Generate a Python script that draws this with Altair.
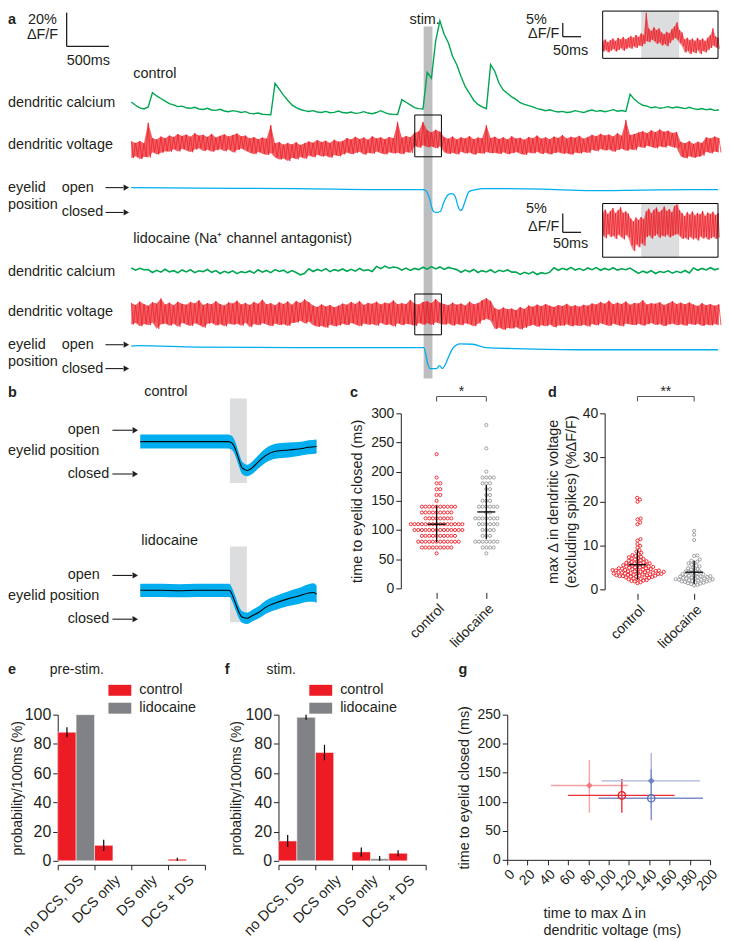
import altair as alt
import pandas as pd

FONT = "Liberation Sans"
INK = "#231F20"
RED = "#ED1C24"
GREEN = "#00A651"
CYAN = "#00AEEF"
BARGRAY = "#808285"
PTGRAY = "#939598"
STIMGRAY = "#BCBEC0"
SHADE = "#DCDDDE"

# ------------------------------------------------------------------ panel a data
DT = 50                      # ms between samples of the long traces
T_END = 6940                 # ms shown
STIM_ON, STIM_OFF = 3458, 3562
ZOOM_T0, ZOOM_T1, ZOOM_DT = 3353, 3668, 7

ca_ctrl = [5.9, 4.0, 2.5, 1.8, 3.0, 11.5, 9.5, 8.0, 6.5, 5.0,
           4.2, 3.2, 3.5, 2.5, 2.2, 2.8, 1.8, 1.5, 2.2, 1.2,
           1.0, 1.6, 0.6, 0.2, 0.8, 0.4, -0.3, 0.2, -0.8, -1.0,
           -0.6, -1.3, -1.5, -1.6, 17.0, 13.5, 10.0, 7.0, 4.2, 2.6,
           1.5, 0.8, 0.3, 0.8, 0.0, -0.3, 0.4, -0.4, -0.2, 0.6,
           -0.3, -0.6, 0.0, -0.8, -0.5, 0.2, -0.6, -1.0, -0.3, 0.8,
           -0.4, -1.2, -1.4, -1.5, 7.3, 5.8, 4.2, 2.6, 2.0, 1.8,
           23.5, 20.0, 42.0, 54.0, 46.0, 41.0, 33.0, 28.0, 21.0, 15.0,
           11.0, 7.0, 4.5, 3.0, 2.0, 28.0, 24.0, 17.0, 13.0, 11.0,
           9.0, 7.5, 5.5, 4.5, 3.8, 3.0, 2.0, 1.5, 0.8, 1.3,
           0.5, 0.0, 0.4, -0.3, 0.0, 0.8, 0.2, -0.3, 0.6, 1.2,
           0.4, 0.9, 0.2, 0.7, 1.4, 0.5, 0.9, 0.4, 10.5, 7.5,
           5.5, 4.0, 3.5, 2.5, 3.0, 2.2, 2.6, 3.2, 2.4, 3.0,
           2.5, 2.0, 2.8, 2.0, 1.5, 2.1, 1.3, 1.8, 1.0, 1.2]

ca_lido = [1.9, 0.6, 1.7, 0.8,
           0.9, -0.8, 0.5, -0.6, 1.1, -0.4, 0.3, -1.0, 0.7, -0.5, 0.8, -0.9, 0.2, -0.3, 1.0, -0.7,
           0.3, -1.4, -0.1, -1.0, 0.2, -1.5, -0.3, -0.9, 0.1, -1.2,
           0.8, -0.6, 0.4, -0.9, 0.9, -0.2, 0.6, -1.0, 0.3,
           -0.8, -2.2, -1.3,
           1.4, -0.2, 1.0, 0.1, 1.5, -0.3, 0.9, 0.2, 1.3, -0.1, 1.1, 0.0, 1.6, 0.3, 0.8, -0.2,
           2.8, 1.5, 3.0, 1.7, 2.4,
           2.0, 0.6, 1.8, 0.4, 1.6, 0.9, 2.3,
           1.2, 2.7, 1.3, 2.5, 1.0, 2.2, 1.5,
           0.9, -0.7, 0.6, -0.4, 1.0, -0.8, 0.3, -0.5, 0.8, -0.9, 0.5, -0.2, 0.7, -0.6,
           -0.5, -1.9, -0.7, -1.6, -0.4, -2.0, -0.9, -1.5, -0.6,
           2.0, 0.5, 1.7, 0.8, 2.2, 0.6, 1.5, 0.4, 1.9, 0.9, 2.1, 0.5, 1.6, 0.7, 2.0, 0.6, 1.4, 0.8, 1.8,
           0.2, -1.3, 0.0, -1.0, 0.3, -1.4, -0.2, -0.8, 0.2, -1.2, -0.1, -0.9, 0.4, -1.1,
           1.9, 0.5, 1.6, 0.7, 2.0, 0.8, 1.5]

v_ctrl_hi = [2.3, 1.6, 2.4, 1.5, 9.8,
             3.6, 3.0, 4.2, 3.5, 4.6,
             4.0, 5.2, 4.4, 5.0, 4.1, 5.6, 4.6, 4.9, 4.0, 5.3,
             3.8, 4.5, 5.1, 4.2, 4.8, 5.5, 4.3, 4.6,
             3.4, 4.0, 3.1, 3.8, 3.3, 8.9,
             1.5, 2.0, 0.9, 1.6, 1.0, 1.9, 0.7, 1.5,
             2.2, 1.7, 2.8, 2.0, 2.5, 1.6, 2.9, 2.1, 2.4,
             3.6, 3.0, 4.1, 3.2, 3.8, 2.9, 4.3, 3.4, 3.9, 3.1, 4.0, 3.5,
             10.2, 3.7, 4.4, 3.9,
             5.8, 6.3, 10.2, 6.8, 5.9, 7.0, 6.2,
             4.0, 3.3, 4.2, 3.0, 3.9, 3.4, 4.4, 3.1, 3.8, 3.5,
             8.9, 3.6,
             4.1, 3.2, 3.9, 3.0, 4.3, 3.4, 3.7, 2.9, 4.0, 3.5, 4.6, 3.3,
             3.9, 3.1, 4.2, 3.6, 4.8, 3.4, 4.1, 3.7, 4.5, 3.3, 4.0,
             4.9, 4.3, 5.3, 4.6, 5.0, 4.2, 5.6, 4.5,
             11.0, 4.8, 5.2,
             5.9, 6.4, 5.6, 6.8, 6.0, 7.1, 6.2, 6.6, 5.7, 6.1,
             2.0, 1.5, 2.4, 1.2, 2.1, 1.6,
             3.9, 3.4, 4.2, 3.6]
v_ctrl_lo = [-4.6, -3.9, -5.0, -4.1, -4.4,
             -2.2, -3.1, -2.4, -1.8, -2.0,
             -1.0, -1.9, -0.8, -1.5, -2.2, -1.1, -0.6, -1.7, -1.2, -2.0,
             -1.4, -0.9, -1.8, -1.1, -2.3, -1.3, -0.7, -1.6,
             -2.4, -3.0, -2.1, -2.8, -3.3, -2.5,
             -4.4, -5.2, -4.8, -5.8, -4.5, -5.1, -4.2, -4.9,
             -3.5, -4.3, -3.2, -4.0, -3.6, -4.5, -3.3, -3.9, -3.1,
             -2.3, -3.0, -2.5, -2.0, -3.2, -2.4, -2.8, -1.9, -2.6, -3.1, -2.2, -2.7,
             -2.4, -3.0, -2.1, -2.5,
             0.3, -0.4, 0.6, -0.2, 0.1, -0.6, 0.2,
             -2.2, -2.9, -2.4, -3.1, -2.0, -2.7, -2.3, -3.2, -2.5, -2.8,
             -2.1, -2.6,
             -2.4, -2.9, -2.2, -3.0, -2.6, -2.1, -2.8, -3.3, -2.3, -2.7, -2.0, -2.9,
             -2.4, -3.1, -2.5, -2.2, -2.8, -2.6, -3.2, -2.3, -2.7, -2.1, -2.5,
             -1.2, -1.8, -0.9, -1.5, -1.1, -2.0, -1.3, -0.8,
             -1.6, -1.0, -1.4,
             0.1, -0.5, 0.4, -0.1, -0.6, 0.2, -0.3, 0.5, -0.2, -0.4,
             -4.0, -4.7, -3.8, -4.5, -4.1, -3.6,
             -2.0, -2.6, -1.9, -2.3]

v_lido_hi = [4.5, 3.6, 5.1, 4.0, 3.3, 4.8, 4.2, 6.3, 3.8, 4.6,
             3.5, 5.0, 4.1, 3.7, 4.9, 4.3, 5.6, 3.6, 4.4, 3.9,
             5.2, 4.0, 3.4, 4.7, 4.2, 5.4, 3.8, 4.5, 3.6, 4.9,
             4.1, 5.8, 3.9, 4.4, 3.5, 4.8, 4.0, 5.1, 3.7,
             5.3, 4.5, 5.9, 4.8,
             3.4, 2.8, 3.9, 3.0, 3.6, 2.7, 3.3,
             4.2, 3.7, 4.9, 4.0, 5.3, 3.6, 4.5, 4.1, 5.0, 3.8,
             4.6, 4.2, 5.5, 3.9, 4.4, 4.0, 5.7, 4.3, 3.8, 4.9,
             5.2, 4.4, 6.1, 4.6,
             4.0, 3.5, 4.6, 3.7, 4.2, 3.4, 5.0, 3.9, 4.4,
             5.6, 6.4, 5.3,
             2.3, 1.7, 2.6, 1.9, 2.2, 1.5, 2.8, 2.0,
             3.4, 2.9, 3.8, 3.1, 4.0, 3.3, 2.8, 3.6, 3.2, 4.1, 3.0, 3.5, 2.9, 3.7, 3.3,
             4.3, 3.8, 4.9, 4.1, 5.4, 3.9, 4.6, 4.0, 5.1, 3.7, 4.5, 4.2,
             5.6, 3.8, 4.4, 4.1, 4.8, 3.6, 4.3, 5.2, 4.0, 4.6, 3.9, 4.7,
             3.8, 3.2, 4.4, 3.5, 4.0, 3.3, 3.9]
v_lido_lo = [-4.3, -3.7, -5.0, -4.1, -4.6, -3.5, -6.1, -4.2, -3.9, -4.8,
             -4.0, -5.3, -3.6, -4.4, -4.9, -3.8, -4.5, -5.6, -4.0, -3.7,
             -4.7, -4.2, -5.1, -3.9, -4.4, -4.0, -4.8, -3.6, -5.4, -4.1,
             -4.6, -3.8, -4.3, -5.0, -3.9, -4.5, -4.2, -4.9, -3.7,
             -3.5, -2.8, -3.9, -3.1,
             -4.6, -5.3, -4.9, -5.7, -4.4, -5.1, -4.7,
             -4.0, -4.6, -3.7, -4.3, -5.0, -3.9, -4.4, -4.1, -4.8, -3.6,
             -4.5, -4.2, -5.2, -3.8, -4.6, -4.0, -4.3, -4.9, -3.7, -4.4,
             -3.8, -4.5, -3.4, -4.0,
             -4.4, -3.9, -4.8, -4.1, -4.6, -3.8, -4.3, -5.0, -4.0,
             -2.6, -2.0, -2.8,
             -6.2, -5.6, -6.5, -5.8, -6.0, -5.4, -6.3, -5.7,
             -4.9, -4.4, -5.3, -4.6, -5.0, -4.3, -5.5, -4.7, -4.8, -4.2, -5.1, -4.6, -4.9, -4.4, -5.2,
             -4.1, -4.7, -3.8, -4.4, -4.9, -4.0, -4.5, -5.1, -3.9, -4.3, -4.6, -4.0,
             -4.8, -4.2, -3.7, -4.5, -4.1, -5.0, -4.3, -3.9, -4.6, -4.2, -4.8, -4.0,
             -4.5, -4.0, -4.9, -4.3, -4.7, -4.1, -4.6]

zoom_ctrl_hi = [1.6, 2.2, 1.2, 1.9, 2.5, 1.6, 2.8, 2.2, 3.1, 2.2,
                2.8, 3.4, 2.8, 3.8, 3.1, 4.4, 3.8, 11.9, 6.2, 5.3,
                6.6, 5.6, 6.2, 4.7, 4.1, 5.0, 4.4, 5.9, 6.9, 8.4,
                5.6, 4.7, 2.2, 2.8, 1.9, 2.5, 1.6, 2.8, 1.9, 2.5,
                1.6, 2.8, 3.8, 6.2, 3.4, 2.8]
zoom_ctrl_lo = [-2.2, -1.6, -2.5, -1.9, -1.2, -2.2, -1.6, -0.9, -1.9, -1.2,
                -0.6, -1.2, -0.3, -0.9, 0.0, -0.3, 0.6, 1.6, 1.2, 2.2,
                1.6, 0.6, 1.2, 0.0, 0.6, -0.3, 0.9, 1.9, 2.8, 2.2,
                0.9, -0.3, -2.5, -1.9, -3.1, -2.2, -2.8, -1.6, -3.1, -1.9,
                -2.5, -1.6, -0.9, 0.0, -0.6, -1.2]
zoom_lido_hi = [4.2, 5.0, 3.8, 4.6, 5.4, 4.0, 4.8, 5.6, 4.1, 4.5, 3.9,
                2.6, 1.8, 2.9, 2.2, 3.0, 2.4,
                4.5, 5.2, 4.0, 4.9, 5.5, 4.3, 4.8, 5.8, 4.6, 5.1, 4.2, 5.9, 6.3, 4.8,
                4.0, 3.2, 4.3, 3.6, 4.5, 3.4, 4.1, 3.7, 4.6, 3.3, 4.2, 3.8, 4.4, 3.5, 4.0]
zoom_lido_lo = [-1.8, -2.6, -1.5, -2.3, -1.9, -2.8, -1.6, -2.2, -2.9, -1.7, -2.4,
                -4.5, -6.0, -4.2, -5.0, -3.9, -4.6,
                -2.3, -1.8, -2.7, -2.0, -1.5, -2.5, -1.9, -2.2, -1.6, -2.4, -2.0, -1.7, -1.4, -2.1,
                -2.8, -2.4, -3.0, -2.2, -2.9, -2.5, -3.2, -2.1, -2.7, -2.3, -3.0, -2.6, -2.2, -2.8, -2.4]

eye_ctrl_t = [0, 780, 1945, 3109, 3458, 3493, 3528, 3551, 3575, 3610, 3656, 3691, 3749, 3796,
              3831, 3866, 3889, 3912, 3947, 3994, 4075, 4157, 4273, 4856, 5438, 6020, 6602, 6940]
eye_ctrl_v = [0.0, 0.02, 0.04, 0.08, 0.08, 0.16, 0.44, 0.76, 0.96, 1.0, 0.96, 0.64, 0.28, 0.24,
              0.36, 0.76, 0.92, 0.88, 0.56, 0.16, 0.08, 0.04, 0.04, 0.06, 0.12, 0.10, 0.08, 0.08]
eye_lido_t = [0, 82, 780, 1945, 3109, 3458, 3482, 3505, 3540, 3610, 3645, 3680, 3714, 3749,
              3808, 3889, 4040, 4192, 4658, 5438, 6940]
eye_lido_v = [0.06, 0.04, 0.10, 0.125, 0.125, 0.125, 0.375, 0.79, 1.0, 1.0, 0.875, 1.0, 0.83, 0.54,
              0.125, -0.04, -0.02, 0.125, 0.17, 0.21, 0.21]

# ------------------------------------------------------------------ panel b data (mean +/- sem)
b_t_ctrl = [-530, -400, -300, -200, -100, -10, 0, 14, 34, 53, 72, 102, 131, 171, 210, 269, 347, 406, 465, 512]
b_mean_ctrl = [0.26, 0.26, 0.26, 0.26, 0.26, 0.26, 0.27, 0.30, 0.45, 0.67, 0.86, 0.92, 0.86, 0.71,
               0.58, 0.48, 0.45, 0.43, 0.39, 0.37]
b_sem_ctrl = [0.16, 0.16, 0.16, 0.16, 0.16, 0.16, 0.16, 0.16, 0.16, 0.15, 0.14, 0.13, 0.14, 0.15,
              0.16, 0.17, 0.17, 0.16, 0.16, 0.16]
b_t_lido = [-530, -400, -300, -200, -100, -10, 0, 14, 34, 53, 72, 102, 131, 171, 210, 269, 347, 406, 465, 494, 512]
b_mean_lido = [0.34, 0.34, 0.35, 0.34, 0.34, 0.34, 0.35, 0.45, 0.65, 0.84, 0.95, 0.98, 0.92, 0.84,
               0.73, 0.63, 0.53, 0.47, 0.40, 0.39, 0.43]
b_sem_lido = [0.15, 0.15, 0.15, 0.15, 0.15, 0.15, 0.15, 0.15, 0.15, 0.14, 0.13, 0.13, 0.13, 0.14,
              0.15, 0.16, 0.17, 0.18, 0.20, 0.21, 0.20]

# ------------------------------------------------------------------ panel c data (ms, count)
c_ctrl_ms = [230, 190, 180, 170, 160, 150, 140, 130, 120, 110, 100, 90, 80, 70, 60]
c_ctrl_n = [1, 1, 2, 2, 2, 1, 10, 9, 8, 15, 14, 10, 12, 9, 1]
c_lido_ms = [280, 240, 200, 190, 180, 170, 160, 150, 140, 130, 120, 110, 100, 90, 80, 70, 60]
c_lido_n = [1, 1, 1, 4, 3, 2, 2, 3, 6, 2, 7, 6, 4, 3, 7, 4, 1]
c_mean = [110, 131]
c_sd_lo = [79, 84]
c_sd_hi = [142, 177]

# ------------------------------------------------------------------ panel d data (%dF/F)
d_ctrl = [20.8, 20.4, 19.9, 16.1, 15.9, 15.2, 14.8, 11.4, 11.1, 10.3, 9.9, 9.5,
          8.9, 8.6, 8.3, 8.0, 7.8, 7.6, 7.4, 7.3, 7.1, 7.0,
          6.9, 6.8, 6.6, 6.5, 6.4, 6.3, 6.2, 6.1, 6.0, 5.9, 5.9, 5.8,
          5.7, 5.6, 5.5, 5.5, 5.4, 5.3, 5.2, 5.2, 5.1, 5.0, 5.0, 4.9,
          4.8, 4.8, 4.7, 4.6, 4.6, 4.5, 4.5, 4.4, 4.4, 4.3, 4.3, 4.2,
          4.2, 4.1, 4.1, 4.0, 4.0, 3.9, 3.9, 3.8, 3.8, 3.7, 3.7, 3.6,
          3.6, 3.5, 3.5, 3.4, 3.4, 3.3, 3.3, 3.2, 3.2, 3.1, 3.1, 3.0,
          3.0, 2.9, 2.9, 2.8, 2.7, 2.7, 2.6, 2.5, 2.4, 2.3, 2.2, 2.1,
          2.0, 1.9, 1.8, 1.6, 1.4]
d_lido = [13.3, 12.4, 11.2, 7.7, 7.6, 6.8, 6.5, 6.3, 6.1, 5.9, 5.6, 5.4, 5.2, 5.0, 4.8, 4.6,
          4.5, 4.3, 4.1, 4.0, 3.9, 3.8, 3.6, 3.5, 3.4, 3.3, 3.2, 3.1, 3.0, 3.0, 2.9, 2.8,
          2.8, 2.7, 2.6, 2.5, 2.5, 2.4, 2.3, 2.3, 2.2, 2.2, 2.1, 2.0, 2.0, 1.9, 1.8, 1.8,
          1.7, 1.6, 1.5, 1.4, 1.3, 1.2, 1.0, 0.9]
d_mean = [5.6, 3.9]
d_sd_lo = [2.2, 1.3]
d_sd_hi = [9.0, 6.5]

# ------------------------------------------------------------------ panels e, f data
cats = ["no DCS, DS", "DCS only", "DS only", "DCS + DS"]
e_ctrl = [88.0, 10.6, 0.0, 1.1]
e_ctrl_err = [3.4, 3.8, 0.0, 1.0]
e_lido = [100.0, 0.0, 0.0, 0.0]
e_lido_err = [0.0, 0.0, 0.0, 0.0]
f_ctrl = [13.6, 74.1, 6.1, 5.2]
f_ctrl_err = [4.1, 5.3, 3.1, 2.1]
f_lido = [98.2, 0.0, 1.4, 0.0]
f_lido_err = [1.7, 0.0, 1.9, 0.0]

# ------------------------------------------------------------------ panel g data
g_name = ["control A", "control B", "lidocaine A", "lidocaine B"]
g_x = [81, 113, 142, 142]
g_xlo = [43, 60, 93, 90]
g_xhi = [119, 165, 190, 193]
g_y = [128, 111, 136, 106]
g_ylo = [81, 81, 88, 68]
g_yhi = [172, 139, 184, 156]
g_cross = ["#F7A3A6", "#EE2E35", "#AAB5DD", "#7D8DCA"]
g_mark = ["#F27C82", "#ED1C24", "#6F81C2", "#5B6EB9"]
g_filled = [True, False, True, False]


# ================================================================== helpers
def lin(va, pa, vb, pb, p0, p1):
    s = (pb - pa) / (vb - va)
    return [va + (p0 - pa) / s, va + (p1 - pa) / s]


def sc(dom):
    return alt.Scale(domain=dom, nice=False, zero=False)


ONE = pd.DataFrame({"k": [0]})


def frame(x1, x2, y1, y2):
    return alt.Chart(ONE).mark_rect(opacity=0).encode(
        x=alt.value(x1), x2=alt.value(x2), y=alt.value(y1), y2=alt.value(y2))


def label(s, x, y, size=14.5, align="left", bold=False, color=INK):
    return alt.Chart(pd.DataFrame({"s": [s]})).mark_text(
        align=align, baseline="middle", font=FONT, fontSize=size,
        fontWeight="bold" if bold else "normal", color=color
    ).encode(x=alt.value(x), y=alt.value(y), text="s:N")


def zigzag(hi, lo, t0, dt):
    t, v = [], []
    for i, (h, l) in enumerate(zip(hi, lo)):
        t += [t0 + i * dt, t0 + i * dt + dt / 2]
        v += [h, l]
    return pd.DataFrame({"t": t, "v": v})


def envelope(hi, lo, t0, dt):
    n = min(len(hi), len(lo))
    return pd.DataFrame({"t": [t0 + i * dt for i in range(n)], "hi": hi[:n], "lo": lo[:n]})


def series(vals, t0, dt):
    return pd.DataFrame({"t": [t0 + i * dt for i in range(len(vals))], "v": vals})


def line(df, xs, ys, color, width=1.0, opacity=1.0, interp="linear"):
    return alt.Chart(df).mark_line(color=color, strokeWidth=width, opacity=opacity,
                                   interpolate=interp).encode(
        x=alt.X("t:Q", scale=xs, axis=None), y=alt.Y("v:Q", scale=ys, axis=None))


def area(df, xs, ys, color, opacity=1.0, interp="linear"):
    return alt.Chart(df).mark_area(color=color, opacity=opacity, interpolate=interp).encode(
        x=alt.X("t:Q", scale=xs, axis=None), y=alt.Y("lo:Q", scale=ys, axis=None), y2="hi:Q")


def span_rect(t0, t1, xs, y0, y1, color=None, outline=False):
    df = pd.DataFrame({"a": [t0], "b": [t1]})
    if outline:
        m = alt.Chart(df).mark_rect(filled=False, color="black", strokeWidth=1)
    else:
        m = alt.Chart(df).mark_rect(color=color)
    return m.encode(x=alt.X("a:Q", scale=xs, axis=None), x2="b:Q",
                    y=alt.value(y0), y2=alt.value(y1))


def scale_bar(t0, dt_, v0, dv, xs, ys):
    d1 = pd.DataFrame({"t": [t0], "v": [v0], "v2": [v0 + dv]})
    d2 = pd.DataFrame({"t": [t0], "t2": [t0 + dt_], "v": [v0]})
    vert = alt.Chart(d1).mark_rule(color=INK, strokeWidth=1.3).encode(
        x=alt.X("t:Q", scale=xs, axis=None), y=alt.Y("v:Q", scale=ys, axis=None), y2="v2:Q")
    hor = alt.Chart(d2).mark_rule(color=INK, strokeWidth=1.3).encode(
        x=alt.X("t:Q", scale=xs, axis=None), x2="t2:Q", y=alt.Y("v:Q", scale=ys, axis=None))
    return [vert, hor]


def arrows(ys, xtext, x1, x2, xhead):
    df = pd.DataFrame({"lab": ["open", "closed"], "v": [0, 1]})
    y = alt.Y("v:Q", scale=ys, axis=None)
    base = alt.Chart(df)
    return [
        base.mark_rule(color=INK, strokeWidth=1.1).encode(x=alt.value(x1), x2=alt.value(x2), y=y),
        base.mark_point(shape="triangle-right", filled=True, color=INK, opacity=1, size=40).encode(
            x=alt.value(xhead), y=y),
        base.mark_text(align="left", baseline="middle", font=FONT, fontSize=14.5, color=INK).encode(
            x=alt.value(xtext), y=y, text="lab:N"),
    ]


def swarm(vals, ppu, diam):
    order = sorted(range(len(vals)), key=lambda i: vals[i])
    placed = []
    offs = [0.0] * len(vals)
    for i in order:
        y = vals[i] * ppu
        near = [(py, px) for py, px in placed if abs(py - y) < diam]
        cands = [0.0]
        for py, px in near:
            dx = max(diam * diam - (py - y) ** 2, 0) ** 0.5
            cands += [px + dx, px - dx]
        cands.sort(key=lambda c: (round(abs(c), 6), -c))
        for c in cands:
            if all((c - px) ** 2 + (y - py) ** 2 >= diam * diam - 1e-6 for py, px in near):
                offs[i] = c
                break
        placed.append((y, offs[i]))
    return offs


# ================================================================== panel a
# plot area: page x 58..722, y 8..384 ; traces start at page x 132
WA, HA = 664, 376
XA = sc(lin(0, 74, T_END, 664, 0, WA))
XZ = sc(lin(ZOOM_T0, 548, ZOOM_T1, 664, 0, WA))
Y_CA_C = sc(lin(0, 102, 10, 85, HA, 0))
Y_V_C = sc(lin(0, 137, 10, 112.4, HA, 0))
Y_EYE_C = sc(lin(0, 178, 1, 203, HA, 0))
Y_CA_L = sc(lin(0, 262, 10, 245, HA, 0))
Y_V_L = sc(lin(0, 305, 10, 280.4, HA, 0))
Y_EYE_L = sc(lin(0, 336, 1, 360, HA, 0))
Y_Z_C = sc(lin(0, 35.1, 10, 7.4, HA, 0))
Y_Z_L = sc(lin(0, 219, 10, 181, HA, 0))

layers_a = [
    frame(-50, WA, 0, HA),
    span_rect(STIM_ON, STIM_OFF, XA, 16, 370, STIMGRAY),
    span_rect(STIM_ON, STIM_OFF, XZ, 0.5, 48, SHADE),
    span_rect(STIM_ON, STIM_OFF, XZ, 194, 248, SHADE),
    line(series(ca_ctrl, 0, DT), XA, Y_CA_C, GREEN, 1.4),
    area(envelope(v_ctrl_hi, v_ctrl_lo, 0, DT), XA, Y_V_C, RED, 0.7),
    line(zigzag(v_ctrl_hi, v_ctrl_lo, 0, DT), XA, Y_V_C, RED, 0.8, 0.9),
    line(pd.DataFrame({"t": eye_ctrl_t, "v": eye_ctrl_v}), XA, Y_EYE_C, CYAN, 1.3, interp="monotone"),
    line(series(ca_lido, 0, DT), XA, Y_CA_L, GREEN, 1.6),
    area(envelope(v_lido_hi, v_lido_lo, 0, DT), XA, Y_V_L, RED, 0.7),
    line(zigzag(v_lido_hi, v_lido_lo, 0, DT), XA, Y_V_L, RED, 0.8, 0.9),
    line(pd.DataFrame({"t": eye_lido_t, "v": eye_lido_v}), XA, Y_EYE_L, CYAN, 1.3, interp="monotone"),
    area(envelope(zoom_ctrl_hi, zoom_ctrl_lo, ZOOM_T0, ZOOM_DT), XZ, Y_Z_C, RED, 0.55),
    line(zigzag(zoom_ctrl_hi, zoom_ctrl_lo, ZOOM_T0, ZOOM_DT), XZ, Y_Z_C, RED, 0.8, 0.9),
    area(envelope(zoom_lido_hi, zoom_lido_lo, ZOOM_T0, ZOOM_DT), XZ, Y_Z_L, RED, 0.55),
    line(zigzag(zoom_lido_hi, zoom_lido_lo, ZOOM_T0, ZOOM_DT), XZ, Y_Z_L, RED, 0.8, 0.9),
    span_rect(ZOOM_T0, ZOOM_T1, XA, 105, 147, outline=True),
    span_rect(ZOOM_T0, ZOOM_T1, XA, 285, 326, outline=True),
    span_rect(ZOOM_T0, ZOOM_T1, XZ, 0.5, 48, outline=True),
    span_rect(ZOOM_T0, ZOOM_T1, XZ, 194, 248, outline=True),
    *scale_bar(-765, 500, 38.8, 20, XA, Y_CA_C),
    *scale_bar(3244, 50, 3.2, 5, XZ, Y_Z_C),
    *scale_bar(3244, 50, -1.05, 5, XZ, Y_Z_L),
    *arrows(Y_EYE_C, 4, 48, 66, 69),
    *arrows(Y_EYE_L, 4, 48, 66, 69),
    label("a", -50, 9, bold=True),
    label("20%", -30, 9), label("\u0394F/F", -31, 25), label("500ms", 9, 51),
    label("stim.", 369, 9, align="center"),
    label("5%", 471, 9), label("\u0394F/F", 473, 24), label("50ms", 498, 41),
    label("control", 76, 64),
    label("dendritic calcium", -50, 93), label("dendritic voltage", -50, 135),
    label("eyelid", -50, 178), label("position", -50, 196),
    label("lidocaine (Na\u207a channel antagonist)", 76, 230),
    label("5%", 471, 200), label("\u0394F/F", 473, 218), label("50ms", 498, 235),
    label("dendritic calcium", -50, 263), label("dendritic voltage", -50, 303),
    label("eyelid", -50, 336), label("position", -50, 353),
]
panel_a = alt.layer(*layers_a).resolve_scale(x="independent", y="independent").properties(
    width=WA, height=HA)

# ================================================================== panel b
# plot area: page x 58..318, y 410..620
WB, HB = 260, 210
XB = sc(lin(-530, 83, 510, 260, 0, WB))
YB_C = sc(lin(0, 17, 1, 61, HB, 0))
YB_L = sc(lin(0, 163, 1, 207, HB, 0))


def mean_band(t, m, e):
    return pd.DataFrame({"t": t, "v": m,
                         "lo": [a - b for a, b in zip(m, e)],
                         "hi": [a + b for a, b in zip(m, e)]})


band_c = mean_band(b_t_ctrl, b_mean_ctrl, b_sem_ctrl)
band_l = mean_band(b_t_lido, b_mean_lido, b_sem_lido)
layers_b = [
    frame(-50, 282, -26, 245),
    span_rect(0, 100, XB, -15, 70, SHADE),
    span_rect(0, 100, XB, 134, 210, SHADE),
    area(band_c, XB, YB_C, CYAN, 1.0, "monotone"),
    line(band_c, XB, YB_C, "black", 1.1, interp="monotone"),
    area(band_l, XB, YB_L, CYAN, 1.0, "monotone"),
    line(band_l, XB, YB_L, "black", 1.1, interp="monotone"),
    *arrows(YB_C, 10, 55, 75, 78),
    *arrows(YB_L, 10, 55, 75, 78),
    label("b", -50, -20, bold=True),
    label("control", 87, -21),
    label("lidocaine", 84, 128),
    label("eyelid position", -50, 38),
    label("eyelid position", -50, 184),
]
panel_b = alt.layer(*layers_b).resolve_scale(y="independent").properties(width=WB, height=HB)


# ================================================================== panels c, d
def cat_axis():
    return alt.Axis(values=[0, 1], labelExpr="datum.value == 0 ? 'control' : 'lidocaine'",
                    labelAngle=315, labelAlign="right", labelBaseline="top", labelFontSize=14,
                    labelPadding=3, title=None, domain=False, tickSize=6, offset=4, grid=False,
                    labelFlush=False, labelOverlap=False, labelBound=False)


def dot_panel(groups, xs, ys, ppu_y, ppu_x, diam, size, yaxis, means, lo, hi, letter, lx, star, frm, W, H):
    xaxis = cat_axis()
    rows = []
    for idx, grp, vals in groups:
        offs = swarm(vals, ppu_y, diam)
        for v, o in zip(vals, offs):
            rows.append({"grp": grp, "val": v, "pos": idx + o / ppu_x})
    pts = alt.Chart(pd.DataFrame(rows)).mark_point(
        filled=False, size=size, strokeWidth=0.9, opacity=1, shape="circle").encode(
        x=alt.X("pos:Q", scale=xs, axis=xaxis),
        y=alt.Y("val:Q", scale=ys, axis=yaxis),
        color=alt.Color("grp:N", scale=alt.Scale(domain=["control", "lidocaine"],
                                                 range=[RED, PTGRAY]), legend=None))
    st = pd.DataFrame({"idx": [0, 1], "mean": means, "lo": lo, "hi": hi})
    vr = alt.Chart(st).mark_rule(color="black", strokeWidth=1.3).encode(
        x=alt.X("idx:Q", scale=xs, axis=xaxis), y=alt.Y("lo:Q", scale=ys, axis=yaxis), y2="hi:Q")
    hr = alt.Chart(st).mark_tick(orient="horizontal", color="black", size=18, thickness=1.3,
                                 opacity=1).encode(
        x=alt.X("idx:Q", scale=xs, axis=xaxis), y=alt.Y("mean:Q", scale=ys, axis=yaxis))
    col = "#58595B"
    d1 = pd.DataFrame({"a": [0], "b": [1]})
    d2 = pd.DataFrame({"p": [0, 1]})
    d3 = pd.DataFrame({"p": [0.5], "s": [star]})
    br = [
        alt.Chart(d1).mark_rule(color=col, strokeWidth=1.1).encode(
            x=alt.X("a:Q", scale=xs, axis=xaxis), x2="b:Q", y=alt.value(-17)),
        alt.Chart(d2).mark_rule(color=col, strokeWidth=1.1).encode(
            x=alt.X("p:Q", scale=xs, axis=xaxis), y=alt.value(-17), y2=alt.value(-12)),
        alt.Chart(d3).mark_text(font=FONT, fontSize=14, color=INK, baseline="middle").encode(
            x=alt.X("p:Q", scale=xs, axis=xaxis), y=alt.value(-21), text="s:N"),
    ]
    return alt.layer(frame(*frm), pts, vr, hr, *br,
                     label(letter, lx, -20, bold=True)).properties(width=W, height=H)


# panel c plot area: page x 403..525, y 410..586
WC, HC = 122, 176
XC = sc(lin(0, 36, 1, 86, 0, WC))
YC = sc([0, 300])
c_ctrl_vals = [m for m, n in zip(c_ctrl_ms, c_ctrl_n) for _ in range(n)]
c_lido_vals = [m for m, n in zip(c_lido_ms, c_lido_n) for _ in range(n)]
yaxis_c = alt.Axis(values=list(range(0, 301, 50)), title="time to eyelid closed (ms)",
                   titleFontSize=14.5, labelFontSize=14, tickSize=5, labelPadding=2,
                   titlePadding=6, grid=False)
panel_c = dot_panel([(0, "control", c_ctrl_vals), (1, "lidocaine", c_lido_vals)],
                    XC, YC, HC / 300, 50, 3.7, 10, yaxis_c, c_mean, c_sd_lo, c_sd_hi,
                    "c", -51, "*", (-63, 142, -26, 245), WC, HC)

# panel d plot area: page x 608..722, y 410..587
WD, HD = 114, 177
XD = sc(lin(0, 33, 1, 90, 0, WD))
YD = sc([0, 40])
yaxis_d = alt.Axis(values=[0, 10, 20, 30, 40],
                   title=["max \u0394 in dendritic voltage", "(excluding spikes) (%\u0394F/F)"],
                   titleFontSize=14.5, labelFontSize=14, tickSize=5, labelPadding=2,
                   titlePadding=4, titleLineHeight=18, grid=False)
panel_d = dot_panel([(0, "control", d_ctrl), (1, "lidocaine", d_lido)],
                    XD, YD, HD / 40, 57, 3.3, 10, yaxis_d, d_mean, d_sd_lo, d_sd_hi,
                    "d", -57, "**", (-63, 114, -26, 245), WD, HD)


# ================================================================== panels e, f
def legend_swatches(x0, y0):
    out = []
    for k, (name, col) in enumerate([("control", RED), ("lidocaine", BARGRAY)]):
        yy = y0 + 18 * k
        out.append(alt.Chart(ONE).mark_rect(color=col).encode(
            x=alt.value(x0), x2=alt.value(x0 + 23), y=alt.value(yy), y2=alt.value(yy + 11)))
        out.append(label(name, x0 + 31, yy + 5.5, size=14.5))
    return out


def bar_panel(ctrl, ctrl_err, lido, lido_err, letter, lx, title, legx, frm, title_pad):
    df = pd.DataFrame({"cat": cats * 2, "cond": ["control"] * 4 + ["lidocaine"] * 4,
                       "val": ctrl + lido, "err": ctrl_err + lido_err})
    df["lo"] = [max(0.0, v - e) for v, e in zip(df["val"], df["err"])]
    df["hi"] = df["val"] + df["err"]
    xscale = alt.Scale(paddingInner=0, paddingOuter=0)
    xaxis = alt.Axis(title=None, labelAngle=315, labelAlign="right", labelBaseline="top",
                     labelFontSize=14.5, labelPadding=3, tickBand="extent", tickSize=5,
                     offset=4, grid=False, labelOverlap=False, labelBound=False)
    XO = alt.XOffset("cond:N", sort=["control", "lidocaine"],
                     scale=alt.Scale(paddingInner=0, paddingOuter=0))
    ys = alt.Scale(domain=[0, 100], nice=False, zero=True)
    yaxis = alt.Axis(values=[0, 20, 40, 60, 80, 100], title="probability/100ms (%)",
                     titleFontSize=14, labelFontSize=16, tickSize=5, labelPadding=2,
                     titlePadding=title_pad, grid=False)
    bars = alt.Chart(df).mark_bar(stroke="white", strokeWidth=0.5).encode(
        x=alt.X("cat:N", sort=cats, scale=xscale, axis=xaxis), xOffset=XO,
        y=alt.Y("val:Q", scale=ys, axis=yaxis),
        color=alt.Color("cond:N", scale=alt.Scale(domain=["control", "lidocaine"],
                                                  range=[RED, BARGRAY]), legend=None))
    errs = alt.Chart(df).transform_filter("datum.err > 0").mark_rule(
        color="black", strokeWidth=1.2).encode(
        x=alt.X("cat:N", sort=cats, scale=xscale, axis=xaxis), xOffset=XO,
        y=alt.Y("lo:Q", scale=ys, axis=yaxis), y2="hi:Q")
    return alt.layer(frame(*frm), bars, errs, *legend_swatches(legx, -30),
                     label(letter, lx, -45, bold=True), label(title, lx + 42, -45, size=14)
                     ).properties(width=148, height=147)


# panel e plot area: page x 58..206, y 713..860 ; panel f: page x 280..428
panel_e = bar_panel(e_ctrl, e_ctrl_err, e_lido, e_lido_err, "e", -50, "pre-stim.", 51,
                    (-50, 167, -58, 225), 0)
panel_f = bar_panel(f_ctrl, f_ctrl_err, f_lido, f_lido_err, "f", -54, "stim.", 31,
                    (-55, 173, -58, 225), 2)

# ================================================================== panel g
# plot area: page x 510..714, y 713..859
WG, HG = 204, 146
XG = sc([0, 200])
YG = sc([0, 250])
gdf = pd.DataFrame({"name": g_name, "x": g_x, "xlo": g_xlo, "xhi": g_xhi,
                    "y": g_y, "ylo": g_ylo, "yhi": g_yhi})
g_xaxis = alt.Axis(values=list(range(0, 201, 20)), labelAngle=315, labelAlign="right",
                   labelBaseline="top", labelFontSize=14, labelPadding=2, tickSize=5,
                   title=["time to max \u0394 in", "dendritic voltage (ms)"], titleFontSize=14.5,
                   titleAlign="left", titleAnchor="start", titleX=36, titleY=47,
                   titleBaseline="top", titleLineHeight=17, grid=False,
                   labelFlush=False, labelOverlap=False, labelBound=False)
g_yaxis = alt.Axis(values=list(range(0, 251, 50)), title="time to eyelid closed (ms)",
                   titleFontSize=14.5, labelFontSize=14, tickSize=5, labelPadding=2,
                   titlePadding=6, grid=False, labelFlush=False, labelOverlap=False)
layers_g = [frame(-57, 212, -58, 225)]
for i in range(len(g_name)):
    row = gdf.iloc[[i]]
    layers_g.append(alt.Chart(row).mark_rule(color=g_cross[i], strokeWidth=1.4).encode(
        x=alt.X("xlo:Q", scale=XG, axis=g_xaxis), x2="xhi:Q",
        y=alt.Y("y:Q", scale=YG, axis=g_yaxis)))
    layers_g.append(alt.Chart(row).mark_rule(color=g_cross[i], strokeWidth=1.4).encode(
        x=alt.X("x:Q", scale=XG, axis=g_xaxis),
        y=alt.Y("ylo:Q", scale=YG, axis=g_yaxis), y2="yhi:Q"))
for i in range(len(g_name)):
    row = gdf.iloc[[i]]
    if g_filled[i]:
        mk = alt.Chart(row).mark_point(shape="diamond", filled=True, size=45, opacity=1,
                                       color=g_mark[i])
    else:
        mk = alt.Chart(row).mark_point(shape="circle", filled=False, size=55, opacity=1,
                                       strokeWidth=1.3, color=g_mark[i])
    layers_g.append(mk.encode(x=alt.X("x:Q", scale=XG, axis=g_xaxis),
                              y=alt.Y("y:Q", scale=YG, axis=g_yaxis)))
layers_g.append(label("g", -49, -45, bold=True))
panel_g = alt.layer(*layers_g).properties(width=WG, height=HG)

# ================================================================== assemble
row2 = alt.hconcat(panel_b, panel_c, panel_d, spacing=0)
row3 = alt.hconcat(panel_e, panel_f, panel_g, spacing=0).resolve_scale(xOffset="independent")
chart = alt.vconcat(panel_a, row2, row3, spacing=0).resolve_scale(
    color="independent").properties(padding=0).configure_view(stroke=None).configure_axis(
    labelFont=FONT, titleFont=FONT, labelColor=INK, titleColor=INK, domainColor=INK,
    tickColor=INK, titleFontWeight="normal", grid=False)

chart.save("out.html", embed_options={"renderer": "svg", "actions": False})
